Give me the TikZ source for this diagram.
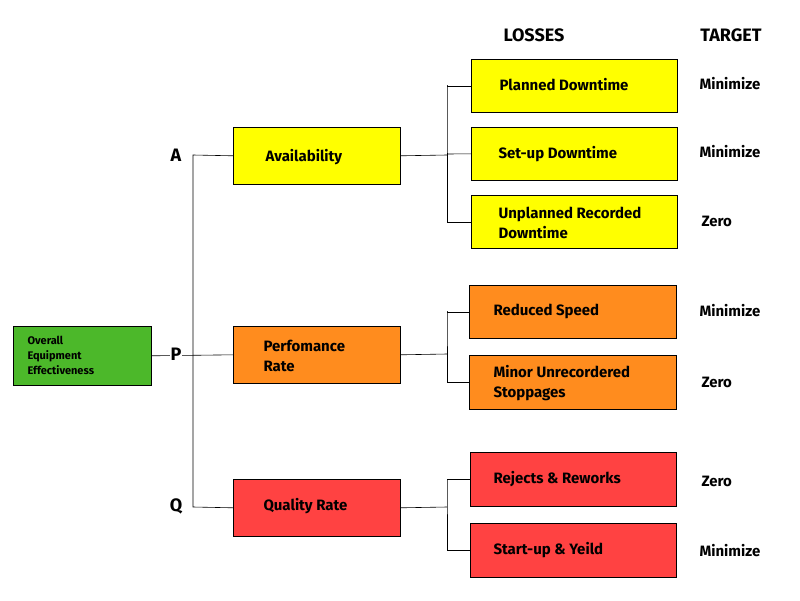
\documentclass[tikz,border=0pt]{standalone}
\usepackage{fontspec}
\setmainfont{Fira Sans}
\begin{document}
\begin{tikzpicture}[x=1pt,y=-1pt,
  box/.style={draw=black,line width=0.6pt,anchor=north west,inner sep=0pt},
  txt/.style={font=\fontsize{15}{20}\selectfont\bfseries,align=left,anchor=west},
  lbl/.style={font=\fontsize{18}{20}\selectfont\bfseries},
  ln/.style={line width=0.6pt}]
\useasboundingbox (0,0) rectangle (800,600);
\definecolor{yel}{HTML}{FFFF00}\definecolor{org}{HTML}{FF8C1E}
\definecolor{rd}{HTML}{FF4242}\definecolor{grn}{HTML}{4CB82A}
% headers
\node[lbl] (hl) at (534,35) {LOSSES};
\node[lbl] (ht) at (731,35) {TARGET};
% OEE
\node[box,fill=grn,minimum width=138pt,minimum height=59pt] (oee) at (13,326) {};
\node[font=\fontsize{11}{15}\selectfont\bfseries,align=left,anchor=west] (oeet) at (24,355) {Overall\\Equipment\\Effectiveness};
% main boxes
\node[box,fill=yel,minimum width=167pt,minimum height=57pt] (av) at (233,127) {};
\node[txt] at (262,157) {Availability};
\node[box,fill=org,minimum width=167pt,minimum height=57pt] (pr) at (233,326) {};
\node[txt] at (260,356) {Perfomance\\Rate};
\node[box,fill=rd,minimum width=167pt,minimum height=57pt] (qr) at (233,479) {};
\node[txt] at (260,506) {Quality Rate};
% loss boxes
\node[box,fill=yel,minimum width=206pt,minimum height=53pt] (l1) at (471,59) {};
\node[txt] at (496,85) {Planned Downtime};
\node[box,fill=yel,minimum width=206pt,minimum height=53pt] (l2) at (471,127) {};
\node[txt] at (495,154) {Set-up Downtime};
\node[box,fill=yel,minimum width=206pt,minimum height=53pt] (l3) at (471,195) {};
\node[txt] at (495,223) {Unplanned Recorded\\Downtime};
\node[box,fill=org,minimum width=207pt,minimum height=53pt] (l4) at (469,285) {};
\node[txt] at (490,311) {Reduced Speed};
\node[box,fill=org,minimum width=207pt,minimum height=54pt] (l5) at (469,355) {};
\node[txt] at (490,383) {Minor Unrecordered\\Stoppages};
\node[box,fill=rd,minimum width=206pt,minimum height=54pt] (l6) at (470,452) {};
\node[txt] at (490,479) {Rejects \& Reworks};
\node[box,fill=rd,minimum width=206pt,minimum height=54pt] (l7) at (470,523) {};
\node[txt] at (490,550) {Start-up \& Yeild};
% connectors
\coordinate (ta) at (193,155); \coordinate (tq) at (193,507);
\draw[ln] (oee.east) -- (pr.west);
\draw[ln] (av.west) -- (ta) -- (tq) -- (qr.west);
\node[lbl,fill=white,inner sep=1pt] (A) at (176,155) {A};
\node[lbl,fill=white,inner sep=1pt] (P) at (176,354) {P};
\node[lbl,fill=white,inner sep=1pt] (Q) at (176,506) {Q};
\draw[ln] (av.east) -- (447,155);
\draw[ln] (l1.west) -| (447,85) |- (l3.west);
\draw[ln] (l2.west) -- (447,154);
\draw[ln] (pr.east) -- (447,354);
\draw[ln] (l4.west) -| (447,311) |- (l5.west);
\draw[ln] (qr.east) -- (447,507);
\draw[ln] (l6.west) -| (447,479) |- (l7.west);
% targets
\tikzset{tg/.style={font=\fontsize{15}{18}\selectfont\bfseries,anchor=west}}
\node[tg] (t1) at (696,84) {Minimize};
\node[tg] (t2) at (696,152) {Minimize};
\node[tg] (t3) at (698,221) {Zero};
\node[tg] (t4) at (696,311) {Minimize};
\node[tg] (t5) at (698,382) {Zero};
\node[tg] (t6) at (698,481) {Zero};
\node[tg] (t7) at (696,551) {Minimize};
\end{tikzpicture}
\end{document}
